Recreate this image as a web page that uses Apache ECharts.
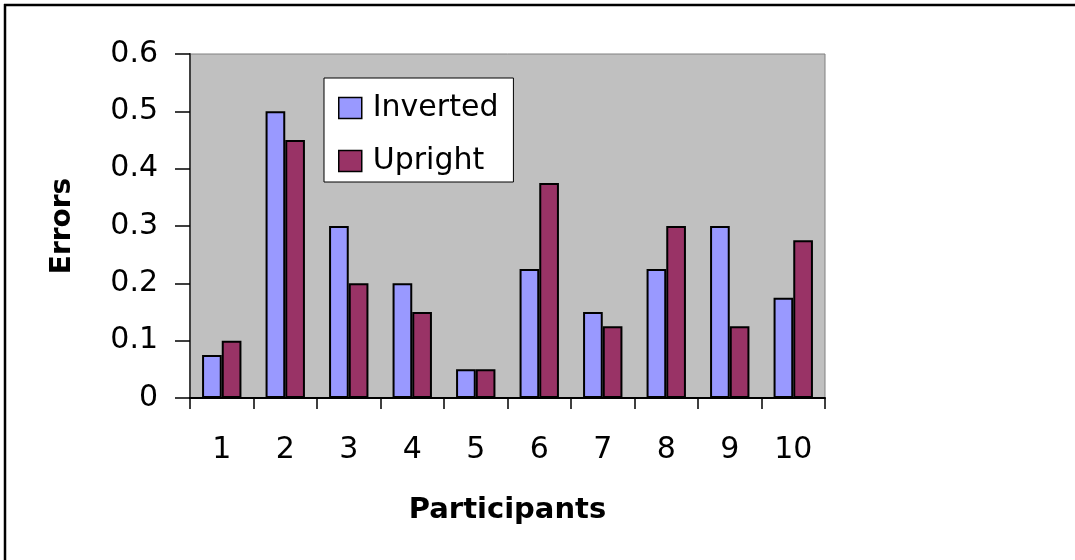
<!DOCTYPE html>
<html>
<head>
<meta charset="utf-8">
<script src="https://cdn.jsdelivr.net/npm/echarts@6/dist/echarts.min.js"></script>
<style>
html,body{margin:0;padding:0;background:#fff;}
#chart{width:1075px;height:560px;}
</style>
</head>
<body>
<div id="chart"></div>
<script>
const categories = ['1','2','3','4','5','6','7','8','9','10'];
const inverted = [0.075, 0.5, 0.3, 0.2, 0.05, 0.225, 0.15, 0.225, 0.3, 0.175];
const upright  = [0.1, 0.45, 0.2, 0.15, 0.05, 0.375, 0.125, 0.3, 0.125, 0.275];
const seriesNames = ['Inverted', 'Upright'];
const yTicks = { min: 0, max: 0.6, interval: 0.1 };

const FONT = 'DejaVu Sans';
const chart = echarts.init(document.getElementById('chart'), null, {renderer: 'canvas'});
chart.setOption({
  backgroundColor: '#ffffff',
  animation: false,
  grid: {
    left: 190, right: 250, top: 54, bottom: 162,
    show: true, backgroundColor: '#C0C0C0', borderColor: '#808080', borderWidth: 1
  },
  legend: {
    orient: 'vertical',
    left: 324, top: 78,
    backgroundColor: '#ffffff',
    borderColor: '#000000', borderWidth: 1,
    padding: [15, 15, 6, 14],
    icon: 'rect',
    itemWidth: 23, itemHeight: 21, itemGap: 23,
    itemStyle: { borderColor: '#000', borderWidth: 1.5 },
    textStyle: { fontFamily: FONT, fontSize: 30, color: '#000', padding: [0, 0, 0, 6] },
    data: seriesNames
  },
  xAxis: {
    type: 'category',
    data: categories,
    boundaryGap: true,
    name: 'Participants',
    nameLocation: 'middle',
    nameGap: 98,
    nameTextStyle: { fontFamily: FONT, fontSize: 29, fontWeight: 'bold', color: '#000' },
    axisLine: { lineStyle: { color: '#000', width: 2 } },
    axisTick: { show: true, length: 11, alignWithLabel: false, lineStyle: { color: '#000', width: 1.5 } },
    axisLabel: { fontFamily: FONT, fontSize: 30, color: '#000', margin: 37 },
    splitLine: { show: false }
  },
  yAxis: {
    type: 'value',
    min: yTicks.min, max: yTicks.max, interval: yTicks.interval,
    name: 'Errors',
    nameLocation: 'middle',
    nameRotate: 90,
    nameGap: 113,
    nameTextStyle: { fontFamily: FONT, fontSize: 28, fontWeight: 'bold', color: '#000' },
    axisLine: { show: true, lineStyle: { color: '#404040', width: 2 } },
    axisTick: { show: true, length: 15, inside: false, lineStyle: { color: '#000', width: 1.5 } },
    axisLabel: { fontFamily: FONT, fontSize: 30, color: '#000', margin: 32 },
    splitLine: { show: false }
  },
  series: [
    {
      name: seriesNames[0], type: 'bar', data: inverted,
      barGap: '0%', barCategoryGap: '38%',
      itemStyle: { color: '#9999FF', borderColor: '#000', borderWidth: 2 }
    },
    {
      name: seriesNames[1], type: 'bar', data: upright,
      barGap: '0%', barCategoryGap: '38%',
      itemStyle: { color: '#993366', borderColor: '#000', borderWidth: 2 }
    }
  ],
  graphic: [
    { type: 'line', shape: { x1: 4, y1: 5, x2: 1075, y2: 5 }, style: { stroke: '#000', lineWidth: 2.5 } },
    { type: 'line', shape: { x1: 5, y1: 4, x2: 5, y2: 560 }, style: { stroke: '#000', lineWidth: 2.5 } }
  ]
});
</script>
</body>
</html>
